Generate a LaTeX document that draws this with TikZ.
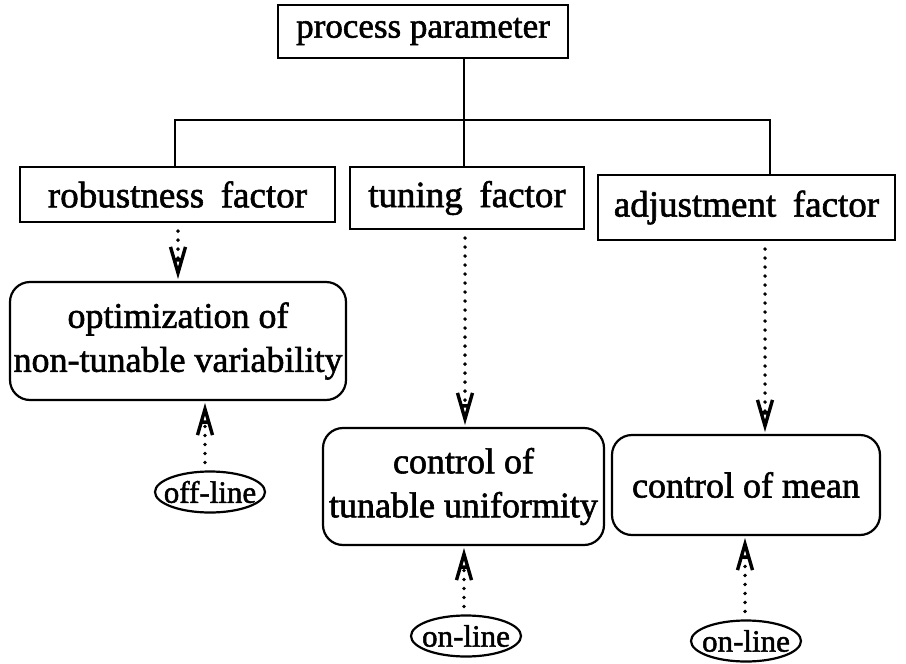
\documentclass[tikz,border=0pt]{standalone}
\usepackage{fontspec}
\setmainfont{Liberation Serif}[RawFeature={embolden=1.6}]
\usetikzlibrary{arrows.meta,shapes.geometric}

% open "A"-shaped arrow tip: two legs meeting at the point, joined by a crossbar
\pgfdeclarearrow{
  name = Forall,
  parameters = {\the\pgfarrowlength,\the\pgfarrowwidth},
  setup code = {
    \pgfarrowssettipend{6pt}
    \pgfarrowssetlineend{-.45\pgfarrowlength}
    \pgfarrowssetvisualbackend{-\pgfarrowlength}
    \pgfarrowssetbackend{-\pgfarrowlength}
    \pgfarrowsupperhullpoint{-\pgfarrowlength}{.5\pgfarrowwidth}
    \pgfarrowshullpoint{6pt}{0pt}
    \pgfarrowssavethe\pgfarrowlength
    \pgfarrowssavethe\pgfarrowwidth
  },
  drawing code = {
    \pgfsetdash{}{0pt}
    \pgfsetbuttcap
    \pgfsetmiterjoin
    \pgfsetlinewidth{3.4pt}
    \pgfpathmoveto{\pgfqpoint{-\pgfarrowlength}{.5\pgfarrowwidth}}
    \pgfpathlineto{\pgfqpoint{0pt}{0pt}}
    \pgfpathlineto{\pgfqpoint{-\pgfarrowlength}{-.5\pgfarrowwidth}}
    \pgfpathmoveto{\pgfqpoint{-.5\pgfarrowlength}{.25\pgfarrowwidth}}
    \pgfpathlineto{\pgfqpoint{-.5\pgfarrowlength}{-.25\pgfarrowwidth}}
    \pgfusepathqstroke
  },
  defaults = {length = 26pt, width = 15pt}
}

\begin{document}
\begin{tikzpicture}[x=1pt, y=-1pt, line width=2.2pt,
  box/.style={draw, inner sep=0pt,
    font={\fontsize{36}{44}\selectfont}},
  wide/.style={font={\fontsize{37}{44}\selectfont\spaceskip=.45em\relax}},
  rbox/.style={box, rounded corners=20pt, align=center},
  oval/.style={draw, ellipse, inner xsep=-14pt, inner ysep=-9pt,
    font={\fontsize{31}{36}\selectfont}},
  dotarrow/.style={line width=3.8pt, line cap=round,
    dash pattern=on 0pt off 9pt, -{Forall},
    shorten >=2pt, shorten <=8pt}]

\useasboundingbox (0,0) rectangle (906,664);

% boxes
\node[box, font={\fontsize{35}{40}\selectfont},
      minimum width=290pt, minimum height=53pt] (pp) at (423,31.5) {process parameter};
\node[box, wide, minimum width=315pt, minimum height=55pt] (rob) at (177.5,194.5) {robustness factor};
\node[box, wide, minimum width=234pt, minimum height=62pt] (tun) at (467,198)     {tuning factor};
\node[box, wide, minimum width=297pt, minimum height=65pt] (adj) at (746.5,207.5) {adjustment factor};

\node[rbox, minimum width=336pt, minimum height=118pt] (opt) at (178,341)     {optimization of\\non-tunable variability};
\node[rbox, minimum width=281pt, minimum height=117pt] (ctu) at (463.5,486.5) {control of\\tunable uniformity};
\node[rbox, minimum width=268pt, minimum height=100pt] (cm)  at (746,485)     {control of mean};

\node[oval, minimum width=110pt, minimum height=41pt] (off) at (210,492) {off-line};
\node[oval, minimum width=110pt, minimum height=41pt] (on1) at (466,636) {on-line};
\node[oval, minimum width=110pt, minimum height=41pt] (on2) at (746,641) {on-line};

% tree connectors
\coordinate (bus) at (464,120);
\coordinate (bl)  at (175,120);
\coordinate (br)  at (770,120);
\draw (pp.south -| bus) -- (bus) -- (tun.north -| bus);
\draw (rob.north -| bl) -- (bl) -- (br) -- (adj.north -| br);

% dotted arrows
\coordinate (xa) at (178,0);
\coordinate (xb) at (465,0);
\coordinate (xc) at (765,0);
\coordinate (xd) at (205,0);
\coordinate (xe) at (464,0);
\coordinate (xf) at (745,0);
\draw[dotarrow] (rob.south -| xa) -- (opt.north -| xa);
\draw[dotarrow] (tun.south -| xb) -- (ctu.north -| xb);
\draw[dotarrow] (adj.south -| xc) -- (cm.north -| xc);
\draw[dotarrow] (off.north -| xd) -- (opt.south -| xd);
\draw[dotarrow] (on1.north -| xe) -- (ctu.south -| xe);
\draw[dotarrow] (on2.north -| xf) -- (cm.south -| xf);
\end{tikzpicture}
\end{document}
